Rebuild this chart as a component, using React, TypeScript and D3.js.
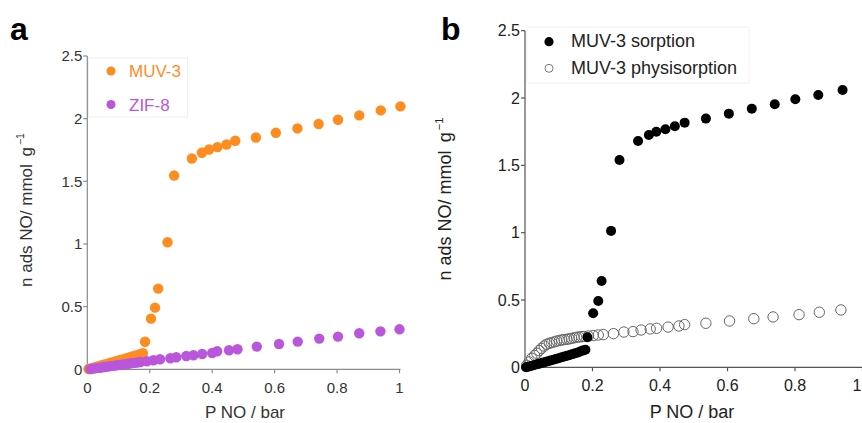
import React from "react";
import * as d3 from "d3";

// MUV-3 NO sorption isotherm (panel a)
const muvP = [0.004, 0.012, 0.02, 0.028, 0.036, 0.044, 0.052, 0.06, 0.068, 0.076, 0.084, 0.092, 0.1, 0.108, 0.116, 0.124, 0.132, 0.14, 0.148, 0.156, 0.164, 0.172, 0.178, 0.185, 0.204, 0.217, 0.227, 0.257, 0.278, 0.335, 0.367, 0.39, 0.417, 0.446, 0.474, 0.54, 0.604, 0.673, 0.741, 0.803, 0.871, 0.94, 1.003];
const muvN = [0.002, 0.007, 0.013, 0.019, 0.024, 0.03, 0.036, 0.041, 0.047, 0.053, 0.058, 0.064, 0.07, 0.075, 0.081, 0.087, 0.093, 0.098, 0.104, 0.11, 0.116, 0.122, 0.128, 0.22, 0.404, 0.492, 0.644, 1.014, 1.546, 1.682, 1.728, 1.754, 1.773, 1.794, 1.824, 1.85, 1.887, 1.922, 1.957, 1.991, 2.026, 2.066, 2.098];

// ZIF-8 NO isotherm (panel a)
const zifP = [0.01, 0.02, 0.03, 0.04, 0.05, 0.06, 0.07, 0.08, 0.09, 0.1, 0.11, 0.12, 0.13, 0.14, 0.15, 0.16, 0.17, 0.191, 0.212, 0.233, 0.266, 0.285, 0.317, 0.34, 0.368, 0.4, 0.416, 0.454, 0.481, 0.543, 0.614, 0.674, 0.743, 0.803, 0.871, 0.939, 1.0];
const zifN = [0.002, 0.005, 0.009, 0.012, 0.016, 0.02, 0.023, 0.027, 0.03, 0.034, 0.037, 0.041, 0.044, 0.048, 0.051, 0.054, 0.058, 0.064, 0.072, 0.08, 0.088, 0.096, 0.106, 0.112, 0.122, 0.13, 0.144, 0.152, 0.16, 0.181, 0.202, 0.221, 0.245, 0.261, 0.288, 0.303, 0.319];

// MUV-3 sorption (panel b)
const sorpP = [0.003, 0.01, 0.018, 0.026, 0.035, 0.043, 0.051, 0.06, 0.068, 0.076, 0.084, 0.092, 0.1, 0.109, 0.117, 0.125, 0.133, 0.141, 0.149, 0.157, 0.164, 0.171, 0.179, 0.185, 0.202, 0.217, 0.227, 0.255, 0.28, 0.335, 0.367, 0.389, 0.416, 0.444, 0.473, 0.536, 0.604, 0.672, 0.74, 0.801, 0.869, 0.941];
const sorpN = [0.001, 0.005, 0.01, 0.016, 0.022, 0.027, 0.033, 0.039, 0.045, 0.05, 0.056, 0.062, 0.068, 0.074, 0.08, 0.086, 0.092, 0.098, 0.104, 0.11, 0.117, 0.124, 0.131, 0.223, 0.401, 0.493, 0.641, 1.013, 1.54, 1.681, 1.726, 1.75, 1.768, 1.79, 1.817, 1.847, 1.884, 1.921, 1.954, 1.991, 2.023, 2.06];

// MUV-3 physisorption (panel b)
const physP = [0.005, 0.012, 0.02, 0.028, 0.035, 0.042, 0.049, 0.057, 0.064, 0.072, 0.079, 0.087, 0.094, 0.102, 0.109, 0.116, 0.124, 0.131, 0.138, 0.146, 0.153, 0.16, 0.168, 0.175, 0.188, 0.202, 0.217, 0.232, 0.262, 0.293, 0.32, 0.344, 0.371, 0.39, 0.424, 0.456, 0.473, 0.536, 0.606, 0.678, 0.735, 0.812, 0.872, 0.936];
const physN = [0.015, 0.04, 0.067, 0.088, 0.104, 0.124, 0.141, 0.158, 0.171, 0.178, 0.183, 0.189, 0.195, 0.199, 0.203, 0.206, 0.208, 0.211, 0.215, 0.219, 0.223, 0.225, 0.227, 0.229, 0.232, 0.236, 0.24, 0.243, 0.25, 0.262, 0.265, 0.277, 0.285, 0.29, 0.299, 0.307, 0.317, 0.327, 0.344, 0.361, 0.374, 0.391, 0.409, 0.426];

const xTicks = [0, 0.2, 0.4, 0.6, 0.8, 1];
const yTicks = [0, 0.5, 1, 1.5, 2, 2.5];
const xTickLabels = ["0", "0.2", "0.4", "0.6", "0.8", "1"];
const yTickLabels = ["0", "0.5", "1", "1.5", "2", "2.5"];

const FONT = "'Liberation Sans', Arial, Helvetica, sans-serif";
const ORANGE = "#ff8c1f";
const PURPLE = "#b956dc";
const WIDTH = 862;
const HEIGHT = 423;

type PanelProps = {
  x0: number; x1: number; y0: number; y1: number;
  fontSize: number; axisColor: string; textColor: string;
  yLabelX: number; yLabelY: number; yLabelSize: number;
  xLabelX: number; xLabelY: number; xLabelSize: number;
  letter: string; letterX: number;
  children: (x: d3.ScaleLinear<number, number>, y: d3.ScaleLinear<number, number>) => React.ReactNode;
};

function Panel(p: PanelProps) {
  const x = d3.scaleLinear().domain([0, 1]).range([p.x0, p.x1]);
  const y = d3.scaleLinear().domain([0, 2.5]).range([p.y0, p.y1]);
  return (
    <g>
      <text x={p.letterX} y={40} fontSize={32} fontWeight="bold" fontFamily={FONT} fill="#000">{p.letter}</text>
      {/* axes */}
      <line x1={x(0)} x2={x(0)} y1={y(0)} y2={y(2.5)} stroke={p.axisColor} strokeWidth={1.2} />
      <line x1={x(0)} x2={x(1) + 1} y1={y(0)} y2={y(0)} stroke={p.axisColor} strokeWidth={1.2} />
      {yTicks.map((t, i) => (
        <g key={"y" + i}>
          <line x1={x(0) - 4} x2={x(0)} y1={y(t)} y2={y(t)} stroke={p.axisColor} strokeWidth={1.2} />
          <text x={x(0) - 5} y={y(t)} dy="0.36em" textAnchor="end" fontSize={p.fontSize} fontFamily={FONT} fill={p.textColor}>{yTickLabels[i]}</text>
        </g>
      ))}
      {xTicks.map((t, i) => {
        // keep the last tick label inside the drawing area
        const overflow = x(t) + p.fontSize * 0.3 > WIDTH;
        return (
          <g key={"x" + i}>
            <line x1={x(t)} x2={x(t)} y1={y(0)} y2={y(0) + 4} stroke={p.axisColor} strokeWidth={1.2} />
            <text x={overflow ? WIDTH - 0.5 : x(t)} y={y(0) + 24} textAnchor={overflow ? "end" : "middle"} fontSize={p.fontSize} fontFamily={FONT} fill={p.textColor}>{xTickLabels[i]}</text>
          </g>
        );
      })}
      <text x={p.xLabelX} y={p.xLabelY} textAnchor="middle" fontSize={p.xLabelSize} fontFamily={FONT} fill={p.textColor}>P NO / bar</text>
      <text transform={`translate(${p.yLabelX},${p.yLabelY}) rotate(-90)`} textAnchor="middle" fontSize={p.yLabelSize} fontFamily={FONT} fill={p.textColor}>
        <tspan>n ads NO/ mmol</tspan>
        <tspan dx={p.yLabelSize * 0.45}>g</tspan>
        <tspan dx={2} dy={-p.yLabelSize * 0.45} fontSize={p.yLabelSize * 0.62}>−1</tspan>
      </text>
      {p.children(x, y)}
    </g>
  );
}

export default function App() {
  return (
    <div style={{ position: "fixed", left: 0, top: 0, width: WIDTH, height: HEIGHT, background: "#fff" }}>
      <svg width={WIDTH} height={HEIGHT} style={{ display: "block" }}>
        <rect width={WIDTH} height={HEIGHT} fill="#fff" />
        <Panel x0={87.3} x1={399.5} y0={369.3} y1={56} fontSize={15} axisColor="#8a8a8a" textColor="#333"
          yLabelX={32} yLabelY={210} yLabelSize={17} xLabelX={245} xLabelY={418} xLabelSize={17}
          letter="a" letterX={10}>
          {(x, y) => (
            <g>
              <rect x={88.5} y={58} width={99} height={59} fill="#fff" stroke="#f0f0f0" />
              <circle cx={111} cy={71} r={4.5} fill={ORANGE} />
              <text x={129} y={77.3} fontSize={17} fontFamily={FONT} fill={ORANGE}>MUV-3</text>
              <circle cx={111} cy={104.5} r={4.5} fill={PURPLE} />
              <text x={129} y={110.5} fontSize={17} fontFamily={FONT} fill={PURPLE}>ZIF-8</text>
              {muvP.map((v, i) => (
                <circle key={"m" + i} cx={x(v)} cy={y(muvN[i])} r={5.2} fill={ORANGE} />
              ))}
              {zifP.map((v, i) => (
                <circle key={"z" + i} cx={x(v)} cy={y(zifN[i])} r={5.2} fill={PURPLE} />
              ))}
            </g>
          )}
        </Panel>
        <Panel x0={525} x1={862.5} y0={367.3} y1={30.7} fontSize={16} axisColor="#555" textColor="#222"
          yLabelX={451} yLabelY={199} yLabelSize={18} xLabelX={692} xLabelY={418} xLabelSize={18}
          letter="b" letterX={441}>
          {(x, y) => (
            <g>
              <rect x={527} y={27} width={222} height={56} fill="#fff" stroke="#f2f2f2" />
              <circle cx={549} cy={41.7} r={4.6} fill="#000" />
              <text x={571} y={47} fontSize={18} fontFamily={FONT} fill="#222">MUV-3 sorption</text>
              <circle cx={549} cy={68.3} r={4} fill="none" stroke="#777" strokeWidth={1} />
              <text x={571} y={74} fontSize={18} fontFamily={FONT} fill="#222">MUV-3 physisorption</text>
              {physP.map((v, i) => (
                <circle key={"p" + i} cx={x(v)} cy={y(physN[i])} r={5.2} fill="none" stroke="#666" strokeWidth={1} />
              ))}
              {sorpP.map((v, i) => (
                <circle key={"s" + i} cx={x(v)} cy={y(sorpN[i])} r={5} fill="#000" />
              ))}
            </g>
          )}
        </Panel>
      </svg>
    </div>
  );
}
